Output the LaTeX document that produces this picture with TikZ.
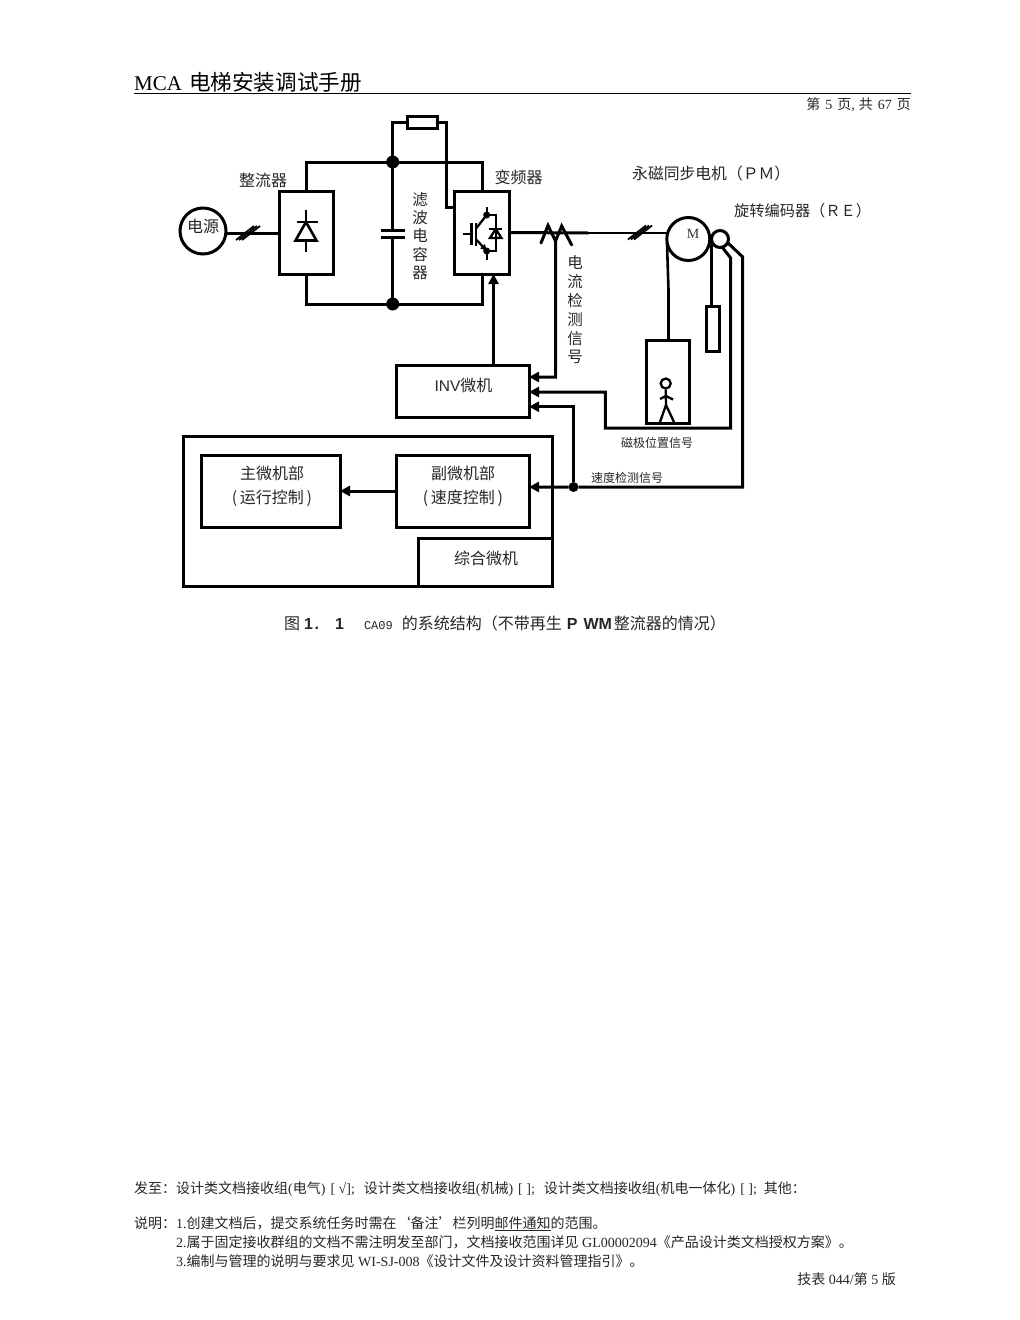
\documentclass[tikz,border=0pt]{standalone}
\usepackage{fontspec}
\usetikzlibrary{arrows.meta,calc}
\setmainfont{Liberation Serif}
\newfontfamily\cjk{Noto Sans CJK SC}
\newfontfamily\sansf{Liberation Sans}
\newfontfamily\monof{Liberation Mono}
\newcommand{\zh}[1]{{\cjk #1}}
\newcommand{\fs}[1]{\fontsize{#1}{#1}\selectfont}
\newcommand{\ulin}[1]{\setbox0=\hbox{#1}\rlap{\rule[-3pt]{\wd0}{1pt}}\box0 }
\tikzset{
  x=1pt,y=-1pt,
  wire/.style={line width=3pt,line cap=round,line join=miter,draw=black},
  thinwire/.style={line width=2.2pt,draw=black},
  sym/.style={line width=2.3pt,draw=black},
  box/.style={draw=black,line width=3pt,fill=none,inner sep=0pt,outer sep=0pt,rectangle},
  arr/.style={wire,line cap=butt,-{Triangle[length=10pt,width=10pt]}},
  dot/.style={circle,fill=black,draw=none,inner sep=0pt,outer sep=0pt,minimum size=#1},
  ring/.style={circle,draw=black,fill=white,inner sep=0pt,outer sep=0pt,line width=3pt,minimum size=#1},
  lbl/.style={inner sep=0pt,font=\cjk\fs{16},text=black!85,align=center},
  small/.style={inner sep=0pt,font=\cjk\fs{12},text=black!85},
  page/.style={inner sep=0pt,anchor=west,font=\fs{14},text=black!85},
}
\begin{document}
\begin{tikzpicture}
\useasboundingbox (0,0) rectangle (1020,1320);
% header
\node[page,font=\fs{21},text=black] (title) at (134,82) {MCA\hspace{7pt}\zh{\fs{21.6}电梯安装调试手册}};
\coordinate (hl) at (134,93); \coordinate (hr) at (911,93);
\draw[line width=.9pt] (hl) -- (hr);
\node[page,anchor=east] (pg) at (911,105) {\zh{第}\hspace{5pt}5\hspace{5pt}\zh{页},\hspace{4pt}\zh{共}\hspace{5pt}67\hspace{5pt}\zh{页}};

% main blocks
\node[ring=46] (src) at (203,231) {};
\node[lbl] (srct) at (203,226) {电源};
\node[box,minimum width=54,minimum height=83] (rect) at (306,233) {};
\node[box,minimum width=55,minimum height=83] (inv) at (482,232.5) {};
\node[dot=13] (jt) at (392.7,162) {};
\node[dot=13] (jb) at (392.7,304) {};
\node[box,minimum width=30,minimum height=12] (res) at (422,122.5) {};
\coordinate (c1) at (392.7,230.5); \coordinate (c2) at (392.7,237.5);
\coordinate (c1l) at (381,230.5); \coordinate (c1r) at (405,230.5);
\coordinate (c2l) at (381,237.5); \coordinate (c2r) at (405,237.5);

% source to rectifier
\draw[wire] (src.east |- rect.west) -- (rect.west);
\coordinate (s1) at (248,233);
\foreach \d in {-3,0,3}
  \draw[sym,line width=1.8pt] ($(s1)+(\d-9,7)$) -- ($(s1)+(\d+9,-7)$);

% DC bus
\draw[wire] (rect.north) -- (rect.north |- jt) -- (jt) -- (jt -| inv.north) -- (inv.north);
\draw[wire] (rect.south) -- (rect.south |- jb) -- (jb) -- (jb -| inv.south) -- (inv.south);
\draw[wire] (jt) -- (c1); \draw[wire] (c2) -- (jb);
\draw[wire,line cap=butt] (c1l) -- (c1r);
\draw[wire,line cap=butt] (c2l) -- (c2r);
\coordinate (bk) at (446.7,207.7);
\draw[wire] (jt) -- (jt |- res.west) -- (res.west);
\draw[wire] (res.east) -- (bk |- res.east) -- (bk) -- (bk -| inv.west);

% rectifier symbol
\coordinate (da) at (306,222);
\draw[wire,line width=2.6pt,line cap=butt] (306,210) -- (da);
\draw[wire,line width=2.6pt,line cap=butt] (296.5,222) -- (317.5,222);
\draw[wire,line width=2.6pt,line join=miter] (da) -- (295.5,240.5) -- (316.5,240.5) -- cycle;
\draw[wire,line width=2.6pt,line cap=butt] (306,240.5) -- (306,252);

% IGBT symbol
\draw[sym,line cap=butt] (463,234) -- (471.5,234);
\draw[sym,line cap=butt] (471.5,222.5) -- (471.5,244.5);
\draw[sym,line cap=butt] (476,222.5) -- (476,245.5);
\draw[sym,line cap=butt] (476,228.5) -- (486.7,215);
\draw[sym,line cap=butt,-{Triangle[length=6pt,width=6pt]}] (476,239.5) -- (486.7,250.5);
\draw[sym,line cap=butt] (486.7,207) -- (486.7,215);
\draw[sym,line cap=butt] (486.7,251) -- (486.7,260);
\node[dot=7] (ig1) at (486.7,215) {};
\node[dot=7] (ig2) at (486.7,251) {};
\draw[sym] (ig1) -- (495.7,215) -- (495.7,251) -- (ig2);
\draw[sym,line cap=butt] (489,229) -- (502,229);
\draw[sym] (495.7,229) -- (490,238) -- (501.5,238) -- cycle;

% output and current sensor
\coordinate (m0) at (588,233);
\draw[wire] (inv.east) -- (m0);
\coordinate (cs1) at (541,243); \coordinate (csp1) at (548,225.5); \coordinate (csm) at (555.5,241);
\coordinate (csp2) at (561.7,226); \coordinate (cs2) at (571.7,245);
\draw[wire,line join=miter] (cs1) -- (csp1) -- (csm) -- (csp2) -- (cs2);

% motor
\node[ring=43] (motor) at (688.3,239) {};
\node[ring=17] (enc) at (720,239) {};
\node[inner sep=0pt,font=\fs{14},text=black!80] (mtxt) at (693,233.5) {M};
\draw[thinwire] (m0) -- (motor.west |- m0);
\coordinate (s2) at (640,232.5);
\foreach \d in {-3,0,3}
  \draw[sym,line width=1.8pt] ($(s2)+(\d-9,7)$) -- ($(s2)+(\d+9,-7)$);

% car and counterweight
\node[box,minimum width=43,minimum height=83] (car) at (667.5,381.5) {};
\node[box,minimum width=13,minimum height=45] (cw) at (712.7,329) {};
\coordinate (mb) at (667,243);
\draw[wire,line width=2.6pt] (mb) -- (668.5,290) -- (car.north -| 668.5,0);
\draw[wire,line width=2.6pt] (cw.north -| 711.7,0) -- (711.7,245);
\node[circle,draw=black,line width=2.3pt,inner sep=0pt,minimum size=10] (head) at (665.7,383.5) {};
\coordinate (hip) at (666,405); \coordinate (neck) at (666,396);
\draw[sym] (head.south) -- (hip);
\draw[sym] (660,399) -- (neck) -- (673,399.5);
\draw[sym] (660,422) -- (hip) -- (674,422);

% controllers
\node[box,minimum width=133,minimum height=52] (invm) at (462.5,391) {};
\node[lbl] (invt) at (463.5,385) {{\sansf\fs{15.5}INV}微机};
\node[box,minimum width=369,minimum height=150] (outer) at (367.5,511) {};
\node[box,minimum width=139,minimum height=72] (mainb) at (270.5,491) {};
\node[box,minimum width=133,minimum height=72] (subb) at (462.5,491) {};
\node[box,minimum width=134,minimum height=48] (comp) at (485,562) {};
\node[lbl] (t1) at (272,486.5) {主微机部\\[8pt](\,运行控制\,)};
\node[lbl] (t2) at (463,486.5) {副微机部\\[8pt](\,速度控制\,)};
\node[lbl] (t3) at (486,558) {综合微机};

\draw[arr] (subb.west) -- (mainb.east);
\draw[arr] (invm.north -| 493.5,0) -- (inv.south -| 493.5,0);

% signal wires
\coordinate (cv) at (555.7,377);
\draw[arr] (csm) -- (cv) -- (invm.east |- cv);
\coordinate (pa) at (605.3,392); \coordinate (pb) at (605.3,428); \coordinate (pc) at (730.7,428);
\coordinate (pd) at (730.7,258); \coordinate (pe) at (722,247);
\draw[arr] (pe) -- (pd) -- (pc) -- (pb) -- (pa) -- (invm.east |- pa);
\coordinate (qa) at (728,243); \coordinate (qb) at (742.7,257); \coordinate (qc) at (742.7,487);
\node[dot=10] (js) at (573.5,487) {};
\draw[arr] (qa) -- (qb) -- (qc) -- (js) -- (subb.east |- js);
\coordinate (ra) at (573.5,406.7);
\draw[arr] (js) -- (ra) -- (invm.east |- ra);

% diagram labels
\node[lbl] (l1) at (263,180) {整流器};
\node[lbl] (l2) at (518.5,177) {变频器};
\node[lbl,anchor=west,font=\cjk\fs{15.8}] (l3) at (632,173) {永磁同步电机（ＰＭ）};
\node[lbl,anchor=west,font=\cjk\fs{15.2}] (l4) at (734,211) {旋转编码器（ＲＥ）};
\node[lbl,align=center,font=\cjk\fs{15.5}] (l5) at (420,236) {滤\\[2.7pt]波\\[2.7pt]电\\[2.7pt]容\\[2.7pt]器};
\node[lbl,align=center,font=\cjk\fs{15.5}] (l6) at (575,310) {电\\[3.3pt]流\\[3.3pt]检\\[3.3pt]测\\[3.3pt]信\\[3.3pt]号};
\node[small] (l7) at (657,443) {磁极位置信号};
\node[small] (l8) at (627,478) {速度检测信号};

% caption
\node[page,font=\cjk\fs{16}] (cap) at (284,623) {图\hspace{4pt}{\sansf\bfseries 1\hspace{1.6pt}.\hspace{16pt}1}\hspace{20pt}{\monof\fs{12}CA09}\hspace{9pt}的系统结构（不带再生\hspace{5pt}{\sansf\bfseries P\hspace{6pt}WM}\hspace{2pt}整流器的情况）};

% footer
\node[page] (f1) at (134,1189) {\zh{发至：设计类文档接收组}(\zh{电气})\hspace{5pt}[ √];\hspace{9pt}\zh{设计类文档接收组}(\zh{机械})\hspace{5pt}[ ];\hspace{9pt}\zh{设计类文档接收组}(\zh{机电一体化})\hspace{5pt}[ ];\hspace{7pt}\zh{其他：}};
\node[page] (f2) at (134,1224) {\zh{说明：}1.\zh{创建文档后，提交系统任务时需在‘备注’栏列明}\ulin{\zh{邮件通知}}\zh{的范围。}};
\node[page] (f3) at (176,1242) {2.\zh{属于固定接收群组的文档不需注明发至部门，文档接收范围详见} GL00002094\zh{《产品设计类文档授权方案》。}};
\node[page] (f4) at (176,1261) {3.\zh{编制与管理的说明与要求见} WI-SJ-008\zh{《设计文件及设计资料管理指引》。}};
\node[page,anchor=east] (f5) at (896,1279) {\zh{技表} 044/\zh{第} 5 \zh{版}};
\end{tikzpicture}
\end{document}
